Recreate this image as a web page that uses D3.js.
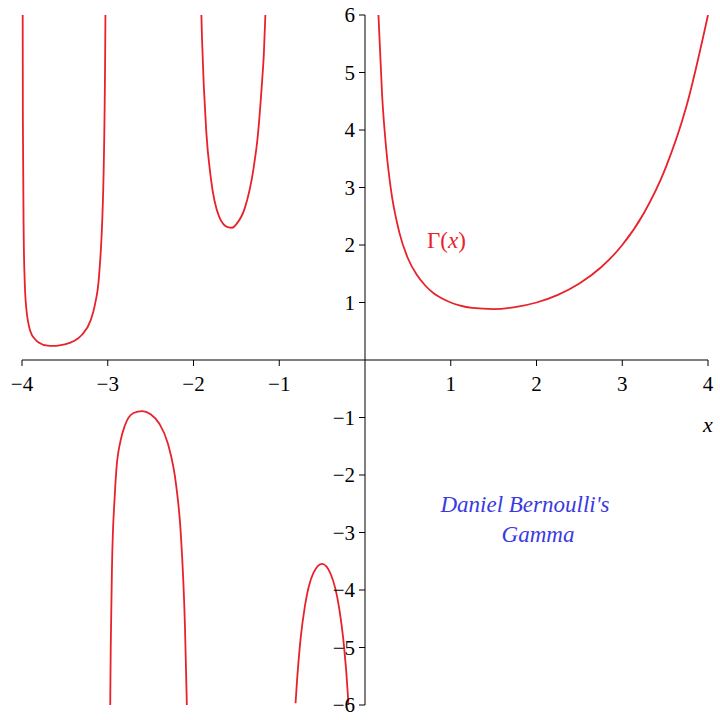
<!DOCTYPE html>
<html><head><meta charset="utf-8">
<script src="https://cdn.jsdelivr.net/npm/d3@7"></script>
<style>body{margin:0;background:#fff}</style>
</head><body>
<svg id="c" width="720" height="720"></svg>
<script>
// branches of Gamma(x)
const branch1X = [-3.996, -3.99, -3.98, -3.97, -3.95, -3.9, -3.85, -3.8, -3.7, -3.64, -3.6, -3.5, -3.4, -3.3, -3.2, -3.15, -3.1, -3.05, -3.03, -3.025];
const branch1Y = [10, 4.23, 2.15, 1.44, 0.90, 0.49, 0.365, 0.30, 0.249, 0.245, 0.247, 0.270, 0.325, 0.439, 0.689, 0.96, 1.49, 3.14, 5.36, 6.46];
const branch2X = [-2.98, -2.97, -2.965, -2.95, -2.92, -2.9, -2.85, -2.8, -2.7, -2.6, -2.5, -2.4, -2.3, -2.2, -2.15, -2.1, -2.08, -2.07];
const branch2Y = [-8.55, -5.78, -4.98, -3.56, -2.4, -1.917, -1.4, -1.139, -0.922, -0.888, -0.945, -1.104, -1.448, -2.205, -2.98, -4.62, -5.84, -6.72];
const branch3X = [-1.92, -1.91, -1.9, -1.85, -1.8, -1.7, -1.6, -1.55, -1.5, -1.4, -1.3, -1.25, -1.2, -1.18, -1.15];
const branch3Y = [6.8, 6.1, 5.56, 3.95, 3.19, 2.49, 2.31, 2.30, 2.363, 2.65, 3.33, 3.9, 4.85, 5.31, 6.45];
const branch4X = [-0.81, -0.8, -0.75, -0.7, -0.6, -0.5, -0.4, -0.3, -0.25, -0.2, -0.19];
const branch4Y = [-5.97, -5.738, -4.834, -4.273, -3.698, -3.545, -3.722, -4.327, -4.902, -5.821, -6.1];
const branch5X = [0.15, 0.2, 0.25, 0.3, 0.4, 0.5, 0.6, 0.7, 0.8, 0.9, 1, 1.1, 1.25, 1.5, 1.75, 2, 2.25, 2.5, 2.75, 3, 3.25, 3.5, 3.75, 4];
const branch5Y = [6.22, 4.59, 3.63, 2.99, 2.22, 1.77, 1.49, 1.30, 1.16, 1.069, 1, 0.951, 0.906, 0.886, 0.919, 1, 1.133, 1.33, 1.608, 2, 2.549, 3.32, 4.42, 6];
const xTicks = [-4, -3, -2, -1, 1, 2, 3, 4];
const yTicks = [-6, -5, -4, -3, -2, -1, 1, 2, 3, 4, 5, 6];

const svg = d3.select("#c");
const x = d3.scaleLinear().domain([-4, 4]).range([22, 708]);
const y = d3.scaleLinear().domain([-6, 6]).range([705, 15]);
const font = "'Liberation Serif', 'DejaVu Serif', serif";

svg.append("clipPath").attr("id", "clip").append("rect")
    .attr("x", 0).attr("y", y(6)).attr("width", 720).attr("height", y(-6) - y(6));

const line = d3.line().x(d => x(d[0])).y(d => y(d[1])).curve(d3.curveMonotoneX);
const branches = [[branch1X, branch1Y], [branch2X, branch2Y], [branch3X, branch3Y], [branch4X, branch4Y], [branch5X, branch5Y]];
branches.forEach(([bx, by]) => {
    const pts = bx.map((v, i) => [v, by[i]]);
    svg.append("path").datum(pts)
        .attr("clip-path", "url(#clip)")
        .attr("fill", "none").attr("stroke", "#e8222a").attr("stroke-width", 1.8)
        .attr("d", line);
});

// axes
svg.append("line").attr("x1", x(-4)).attr("x2", x(4)).attr("y1", y(0)).attr("y2", y(0)).attr("stroke", "#000");
svg.append("line").attr("x1", x(0)).attr("x2", x(0)).attr("y1", y(6)).attr("y2", y(-6)).attr("stroke", "#000");

const fmt = v => v < 0 ? "\u2212" + Math.abs(v) : String(v);
xTicks.forEach(t => {
    svg.append("line").attr("x1", x(t)).attr("x2", x(t)).attr("y1", y(0)).attr("y2", y(0) + 6).attr("stroke", "#000");
    svg.append("text").attr("x", x(t)).attr("y", y(0) + 31).attr("text-anchor", "middle")
        .attr("font-family", font).attr("font-size", 21).text(fmt(t));
});
yTicks.forEach(t => {
    svg.append("line").attr("x1", x(0) - 6).attr("x2", x(0)).attr("y1", y(t)).attr("y2", y(t)).attr("stroke", "#000");
    svg.append("text").attr("x", x(0) - 10).attr("y", y(t) + 7).attr("text-anchor", "end")
        .attr("font-family", font).attr("font-size", 21).text(fmt(t));
});

svg.append("text").attr("x", 708).attr("y", 432).attr("text-anchor", "middle")
    .attr("font-family", font).attr("font-style", "italic").attr("font-size", 22).text("x");

svg.append("text").attr("x", x(0.95)).attr("y", y(1.95)).attr("text-anchor", "middle")
    .attr("font-family", font).attr("font-size", 23).attr("fill", "#e8222a")
    .html("\u0393(<tspan font-style='italic'>x</tspan>)");

const note = svg.append("text").attr("text-anchor", "middle").attr("font-family", font)
    .attr("font-style", "italic").attr("font-size", 23).attr("fill", "#3a3ae0");
note.append("tspan").attr("x", 525).attr("y", 512).text("Daniel Bernoulli's");
note.append("tspan").attr("x", 538).attr("y", 542).text("Gamma");
</script>
</body></html>
